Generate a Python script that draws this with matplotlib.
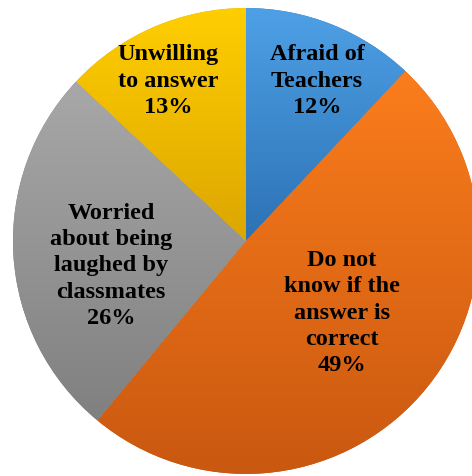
import numpy as np
import matplotlib
matplotlib.use('Agg')
import matplotlib.pyplot as plt
from matplotlib.colors import LinearSegmentedColormap

plt.rcParams['font.family'] = 'serif'
plt.rcParams['font.serif'] = ['Liberation Serif', 'Times New Roman', 'DejaVu Serif']

# Data
labels = ['Afraid of\nTeachers', 'Do not\nknow if the\nanswer is\ncorrect',
          'Worried\nabout being\nlaughed by\nclassmates', 'Unwilling\nto answer']
values = [12, 49, 26, 13]

# gradient colours (top, bottom) for each slice, Excel-like fill
top_colors = ['#4EA0E6', '#FB7D1C', '#A8A8A8', '#FFCE00']
bottom_colors = ['#2C72B4', '#C95810', '#808080', '#DCA600']

# label centres in axis units (radius = 1)
label_pos = [(0.305, 0.69), (0.412, -0.305), (-0.579, -0.103), (-0.335, 0.69)]

fig = plt.figure(figsize=(4.72, 4.77), dpi=100)
ax = fig.add_axes([0.0275, 0.0042, 0.987, 0.977])

wedges, _ = ax.pie(values, startangle=90, counterclock=False, radius=1,
                   colors=bottom_colors, wedgeprops=dict(linewidth=0))

for w, c_top, c_bot in zip(wedges, top_colors, bottom_colors):
    bb = w.get_path().get_extents()
    cmap = LinearSegmentedColormap.from_list('g', [c_bot, c_top])
    grad = np.linspace(0, 1, 256).reshape(-1, 1)
    img = ax.imshow(grad, cmap=cmap, origin='lower', aspect='auto',
                    extent=[bb.x0, bb.x1, bb.y0, bb.y1], interpolation='bicubic',
                    zorder=2)
    img.set_clip_path(w)

for lab, val, (x, y) in zip(labels, values, label_pos):
    ax.text(x, y, f'{lab}\n{val}%', ha='center', va='center',
            fontsize=17.5, fontweight='bold', linespacing=1.33,
            color='black', zorder=3)

ax.set_xlim(-1, 1)
ax.set_ylim(-1, 1)
ax.set_aspect('equal')
ax.axis('off')

fig.savefig('out.png', dpi=100)
